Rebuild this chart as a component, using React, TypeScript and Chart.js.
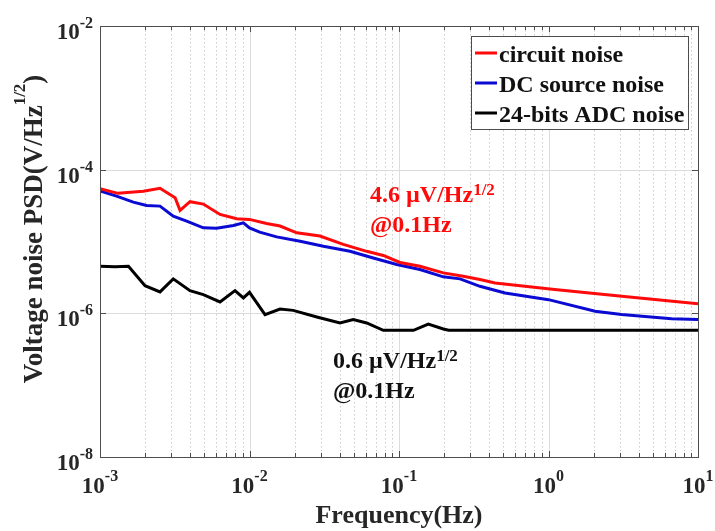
import React, { useEffect, useRef } from 'react';
import { Chart, registerables } from 'chart.js';

Chart.register(...registerables);

// ---------- data ----------
const circuitFreq = [1e-3, 1.32e-3, 1.95e-3, 2.52e-3, 3.18e-3, 3.43e-3, 4.0e-3, 4.91e-3, 6.35e-3, 8.2e-3, 1.0e-2, 1.3e-2, 1.6e-2, 2.07e-2, 2.96e-2, 4.24e-2, 6.08e-2, 7.85e-2, 0.1016, 0.138, 0.198, 0.269, 0.348, 0.439, 1.1, 3.09, 10];
const circuitPsd = [5.43e-5, 4.68e-5, 5.0e-5, 5.5e-5, 4.07e-5, 2.71e-5, 3.58e-5, 3.32e-5, 2.38e-5, 2.07e-5, 2.03e-5, 1.78e-5, 1.64e-5, 1.32e-5, 1.19e-5, 9.1e-6, 7.3e-6, 6.4e-6, 5.1e-6, 4.53e-6, 3.66e-6, 3.28e-6, 2.95e-6, 2.65e-6, 2.14e-6, 1.73e-6, 1.36e-6];

const dcFreq = [1e-3, 1.29e-3, 1.67e-3, 2.05e-3, 2.52e-3, 3.09e-3, 3.8e-3, 4.91e-3, 6.03e-3, 7.8e-3, 9.1e-3, 1.0e-2, 1.17e-2, 1.52e-2, 2.18e-2, 3.12e-2, 4.7e-2, 6.73e-2, 9.66e-2, 0.138, 0.198, 0.256, 0.348, 0.512, 1.0, 2.05, 3.08, 6.66, 10];
const dcPsd = [5.04e-5, 4.28e-5, 3.53e-5, 3.18e-5, 3.11e-5, 2.25e-5, 1.92e-5, 1.55e-5, 1.53e-5, 1.67e-5, 1.82e-5, 1.55e-5, 1.35e-5, 1.16e-5, 1.01e-5, 8.6e-6, 7.3e-6, 5.9e-6, 4.78e-6, 4.07e-6, 3.22e-6, 3.02e-6, 2.38e-6, 1.92e-6, 1.55e-6, 1.07e-6, 9.6e-7, 8.4e-7, 8.2e-7];

const adcFreq = [1e-3, 1.26e-3, 1.55e-3, 2.0e-3, 2.52e-3, 3.09e-3, 4.0e-3, 4.91e-3, 6.35e-3, 8.0e-3, 9.1e-3, 1.0e-2, 1.27e-2, 1.6e-2, 1.96e-2, 2.82e-2, 4.03e-2, 4.94e-2, 6.08e-2, 7.85e-2, 0.125, 0.157, 0.198, 0.215, 10];
const adcPsd = [4.53e-6, 4.44e-6, 4.53e-6, 2.43e-6, 1.99e-6, 3.02e-6, 2.07e-6, 1.82e-6, 1.44e-6, 2.07e-6, 1.64e-6, 1.96e-6, 9.6e-7, 1.15e-6, 1.1e-6, 8.9e-7, 7.35e-7, 8.2e-7, 7.35e-7, 5.8e-7, 5.8e-7, 7.1e-7, 6.05e-7, 5.8e-7, 5.8e-7];

const seriesLabels = ['circuit noise', 'DC source noise', '24-bits ADC noise'];
const seriesColors = ['#ff0a0a', '#0a0ad2', '#000000'];

const xTickExps = [-3, -2, -1, 0, 1];
const yTickExps = [-8, -6, -4, -2];

const xTitle = 'Frequency(Hz)';
const yTitleMain = 'Voltage noise PSD(V/Hz';
const yTitleSup = '1/2';
const yTitleEnd = ')';

const redNoteLine1 = '4.6 µV/Hz';
const blackNoteLine1 = '0.6 µV/Hz';
const noteSup = '1/2';
const noteLine2 = '@0.1Hz';

const SERIF = '"Liberation Serif", "Times New Roman", serif';
const f = (size: number) => `bold ${size}px ${SERIF}`;

function drawPow(ctx: CanvasRenderingContext2D, base: string, sup: string, x: number, baseY: number, bs: number, ss: number, rise: number, align: 'center' | 'right' | 'left') {
  ctx.font = f(bs);
  const wb = ctx.measureText(base).width;
  ctx.font = f(ss);
  const ws = ctx.measureText(sup).width;
  const total = wb + ws;
  let start = x;
  if (align === 'center') start = x - total / 2;
  else if (align === 'right') start = x - total;
  ctx.textAlign = 'left';
  ctx.textBaseline = 'alphabetic';
  ctx.font = f(bs);
  ctx.fillText(base, start, baseY);
  ctx.font = f(ss);
  ctx.fillText(sup, start + wb, baseY - rise);
}

const decorPlugin = {
  id: 'decor',
  beforeDatasetsDraw(chart: any) {
    const { ctx, chartArea: a, scales } = chart;
    const x = scales.x;
    const y = scales.y;
    ctx.save();
    // minor vertical dotted grid
    ctx.strokeStyle = '#cacaca';
    ctx.lineWidth = 1;
    ctx.setLineDash([1.5, 2.5]);
    for (let e = -3; e < 1; e++) {
      for (let m = 2; m <= 9; m++) {
        const px = Math.round(x.getPixelForValue(m * Math.pow(10, e))) + 0.5;
        ctx.beginPath();
        ctx.moveTo(px, a.top);
        ctx.lineTo(px, a.bottom);
        ctx.stroke();
      }
    }
    ctx.setLineDash([]);
    ctx.strokeStyle = '#dcdcdc';
    for (const e of xTickExps) {
      const px = Math.round(x.getPixelForValue(Math.pow(10, e))) + 0.5;
      ctx.beginPath();
      ctx.moveTo(px, a.top);
      ctx.lineTo(px, a.bottom);
      ctx.stroke();
    }
    for (const e of yTickExps) {
      const py = Math.round(y.getPixelForValue(Math.pow(10, e))) + 0.5;
      ctx.beginPath();
      ctx.moveTo(a.left, py);
      ctx.lineTo(a.right, py);
      ctx.stroke();
    }
    ctx.restore();
  },
  afterDatasetsDraw(chart: any) {
    const { ctx, chartArea: a, scales } = chart;
    const x = scales.x;
    const y = scales.y;
    ctx.save();
    // box
    ctx.strokeStyle = '#4d4d4d';
    ctx.lineWidth = 1;
    ctx.strokeRect(Math.round(a.left) + 0.5, Math.round(a.top) + 0.5, Math.round(a.right - a.left), Math.round(a.bottom - a.top));
    // x ticks (major + minor, bottom and top, inward)
    ctx.beginPath();
    for (let e = -3; e <= 1; e++) {
      for (let m = 1; m <= 9; m++) {
        const v = m * Math.pow(10, e);
        if (v > 10.0001) break;
        const len = m === 1 ? 6 : 4;
        const px = Math.round(x.getPixelForValue(v)) + 0.5;
        ctx.moveTo(px, a.bottom);
        ctx.lineTo(px, a.bottom - len);
        ctx.moveTo(px, a.top);
        ctx.lineTo(px, a.top + len);
      }
    }
    for (const e of yTickExps) {
      const py = Math.round(y.getPixelForValue(Math.pow(10, e))) + 0.5;
      ctx.moveTo(a.left, py);
      ctx.lineTo(a.left + 6, py);
      ctx.moveTo(a.right, py);
      ctx.lineTo(a.right - 6, py);
    }
    ctx.stroke();

    // tick labels
    ctx.fillStyle = '#262626';
    for (const e of xTickExps) {
      const px = x.getPixelForValue(Math.pow(10, e));
      drawPow(ctx, '10', String(e), px, a.bottom + 36, 23, 16, 12, 'center');
    }
    for (const e of yTickExps) {
      const py = y.getPixelForValue(Math.pow(10, e));
      drawPow(ctx, '10', String(e), a.left - 7, py + 13, 23, 16, 11, 'right');
    }

    // axis titles
    ctx.fillStyle = '#262626';
    ctx.font = f(26);
    ctx.textAlign = 'center';
    ctx.textBaseline = 'alphabetic';
    ctx.fillText(xTitle, (a.left + a.right) / 2, 523);

    ctx.save();
    ctx.translate(42, 229);
    ctx.rotate(-Math.PI / 2);
    ctx.font = f(27);
    const w1 = ctx.measureText(yTitleMain).width;
    const w3 = ctx.measureText(yTitleEnd).width;
    ctx.font = f(17);
    const w2 = ctx.measureText(yTitleSup).width;
    const tot = w1 + w2 + w3;
    const sx = -tot / 2;
    ctx.textAlign = 'left';
    ctx.font = f(27);
    ctx.fillText(yTitleMain, sx, 0);
    ctx.font = f(17);
    ctx.fillText(yTitleSup, sx + w1, -17);
    ctx.font = f(27);
    ctx.fillText(yTitleEnd, sx + w1 + w2, 0);
    ctx.restore();

    // annotations
    ctx.fillStyle = '#ff0a0a';
    drawPow(ctx, redNoteLine1, noteSup, 370, 202, 24, 17, 7, 'left');
    ctx.font = f(24);
    ctx.textAlign = 'left';
    ctx.fillText(noteLine2, 370, 232);
    ctx.fillStyle = '#111111';
    drawPow(ctx, blackNoteLine1, noteSup, 333, 368, 24, 17, 7, 'left');
    ctx.font = f(24);
    ctx.textAlign = 'left';
    ctx.fillText(noteLine2, 333, 398);

    // legend
    const lx = 471, ly = 36, lw = 217, lh = 93;
    ctx.fillStyle = '#ffffff';
    ctx.fillRect(lx, ly, lw, lh);
    ctx.strokeStyle = '#4d4d4d';
    ctx.lineWidth = 1;
    ctx.strokeRect(lx + 0.5, ly + 0.5, lw, lh);
    chart.data.datasets.forEach((ds: any, i: number) => {
      const ry = ly + 17 + i * 30;
      ctx.strokeStyle = ds.borderColor;
      ctx.lineWidth = 3;
      ctx.beginPath();
      ctx.moveTo(lx + 4, ry);
      ctx.lineTo(lx + 26, ry);
      ctx.stroke();
      ctx.fillStyle = '#111111';
      ctx.font = f(24);
      ctx.textAlign = 'left';
      ctx.textBaseline = 'alphabetic';
      ctx.fillText(ds.label, lx + 28, ry + 9);
    });
    ctx.restore();
  },
};

export default function App() {
  const ref = useRef<HTMLCanvasElement | null>(null);
  useEffect(() => {
    if (!ref.current) return;
    const mk = (fx: number[], py: number[]) => fx.map((v, i) => ({ x: v, y: py[i] }));
    const chart = new Chart(ref.current, {
      type: 'line',
      data: {
        datasets: [
          { label: seriesLabels[0], data: mk(circuitFreq, circuitPsd), borderColor: seriesColors[0], borderWidth: 3, pointRadius: 0, tension: 0, fill: false },
          { label: seriesLabels[1], data: mk(dcFreq, dcPsd), borderColor: seriesColors[1], borderWidth: 3, pointRadius: 0, tension: 0, fill: false },
          { label: seriesLabels[2], data: mk(adcFreq, adcPsd), borderColor: seriesColors[2], borderWidth: 3, pointRadius: 0, tension: 0, fill: false },
        ],
      },
      options: {
        animation: false,
        responsive: false,
        layout: { padding: { left: 100, right: 17, top: 26, bottom: 74 } },
        plugins: { legend: { display: false }, tooltip: { enabled: false }, title: { display: false } },
        scales: {
          x: { type: 'logarithmic', min: 1e-3, max: 10, display: false },
          y: { type: 'logarithmic', min: 1e-8, max: 1e-2, display: false },
        },
      },
      plugins: [decorPlugin],
    } as any);
    return () => chart.destroy();
  }, []);
  return (
    <div style={{ position: 'fixed', left: 0, top: 0, width: 715, height: 531, background: '#ffffff' }}>
      <canvas ref={ref} width={715} height={531} style={{ display: 'block' }} />
    </div>
  );
}
